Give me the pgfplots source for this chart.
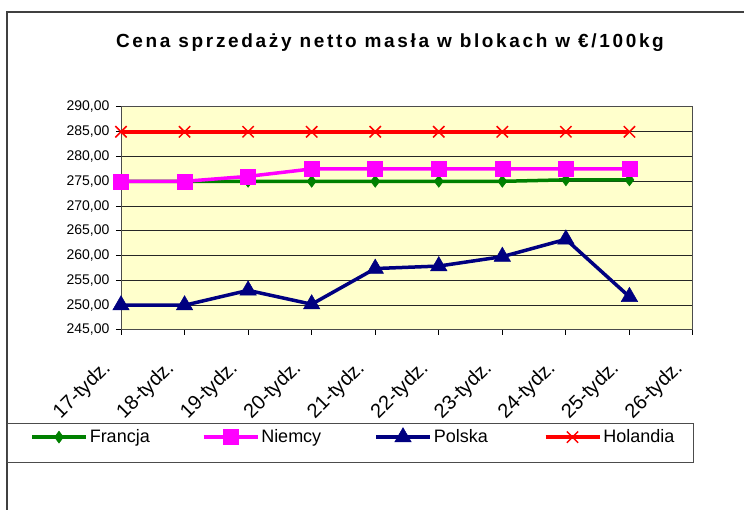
\documentclass[border=0pt]{standalone}
\usepackage{fontspec}
\setmainfont{Liberation Sans}
\usepackage{pgfplots}
\pgfplotsset{compat=1.18}
\definecolor{bgy}{HTML}{FFFFCC}
\definecolor{fr}{HTML}{008000}
\definecolor{ni}{HTML}{FF00FF}
\definecolor{po}{HTML}{000080}
\definecolor{ho}{HTML}{FF0000}
\begin{document}
\begin{tikzpicture}[x=1pt,y=1pt]
\path[use as bounding box] (0,0) rectangle (744,510);
\draw[line width=1.5pt, black!75] (7,0) -- (7,498) -- (744,498);
\node[font=\bfseries\fontsize{19}{22}\selectfont\addfontfeature{LetterSpace=14}] at (390,467) {Cena sprzedaży netto masła w blokach w €/100kg};
\draw[black!70, line width=1pt] (7,47.3) rectangle (693,86);
\begin{axis}[
  at={(121pt,180pt)}, anchor=south west,
  scale only axis, width=572pt, height=223pt,
  xmin=0, xmax=9, ymin=245, ymax=290,
  ytick={245,250,...,290},
  xtick={0,...,9},
  xticklabels={17-tydz.,18-tydz.,19-tydz.,20-tydz.,21-tydz.,22-tydz.,23-tydz.,24-tydz.,25-tydz.,26-tydz.},
  x tick label style={rotate=45, anchor=east, xshift=-27.5pt, yshift=-12pt, font=\fontsize{20}{22}\selectfont},
  y tick label style={font=\fontsize{14}{16}\selectfont, xshift=-3pt},
  /pgf/number format/assume math mode=true,
  yticklabel={\pgfmathprintnumber[fixed, fixed zerofill, precision=2, use comma, set thousands separator={}]{\tick}},
  tick align=outside, tick pos=left,
  major tick length=5pt,
  tick style={black, line width=1pt},
  ymajorgrids,
  grid style={black!85, line width=1pt},
  axis line style={black!70, line width=1pt},
  axis background/.style={fill=bgy},
  clip=false,
  legend columns=4,
  legend style={draw=none, fill=none, at={(-0.159,-0.48)}, anchor=west, font=\fontsize{18}{20}\selectfont, inner sep=0pt, /tikz/every even column/.append style={column sep=0pt}},
  legend image code/.code={\draw[mark repeat=2,mark phase=2,#1] plot coordinates {(0pt,0pt) (27pt,0pt) (54pt,0pt)};},
]
\addplot[fr, line width=3.5pt, mark=diamond*, mark size=6pt, mark options={solid, line width=0.5pt}] coordinates {(0,275) (1,275) (2,275) (3,275) (4,275) (5,275) (6,275) (7,275.3) (8,275.3)};
\addlegendentry{\makebox[110pt][l]{Francja}}
\addplot[ni, line width=3.5pt, mark=square*, mark size=7.5pt, mark options={solid, line width=0.5pt}] coordinates {(0,275) (1,275) (2,276) (3,277.5) (4,277.5) (5,277.5) (6,277.5) (7,277.5) (8,277.5)};
\addlegendentry{\makebox[111pt][l]{Niemcy}}
\addplot[po, line width=3.5pt, mark=triangle*, mark size=9.5pt, mark options={solid, line width=0.5pt}] coordinates {(0,250) (1,250) (2,253) (3,250.2) (4,257.4) (5,257.9) (6,259.8) (7,263.3) (8,251.7)};
\addlegendentry{\makebox[108pt][l]{Polska}}
\addplot[ho, line width=3.5pt, mark=x, mark size=8pt, mark options={solid, line width=1.5pt}] coordinates {(0,285) (1,285) (2,285) (3,285) (4,285) (5,285) (6,285) (7,285) (8,285)};
\addlegendentry{\makebox[90pt][l]{Holandia}}
\end{axis}
\end{tikzpicture}
\end{document}
